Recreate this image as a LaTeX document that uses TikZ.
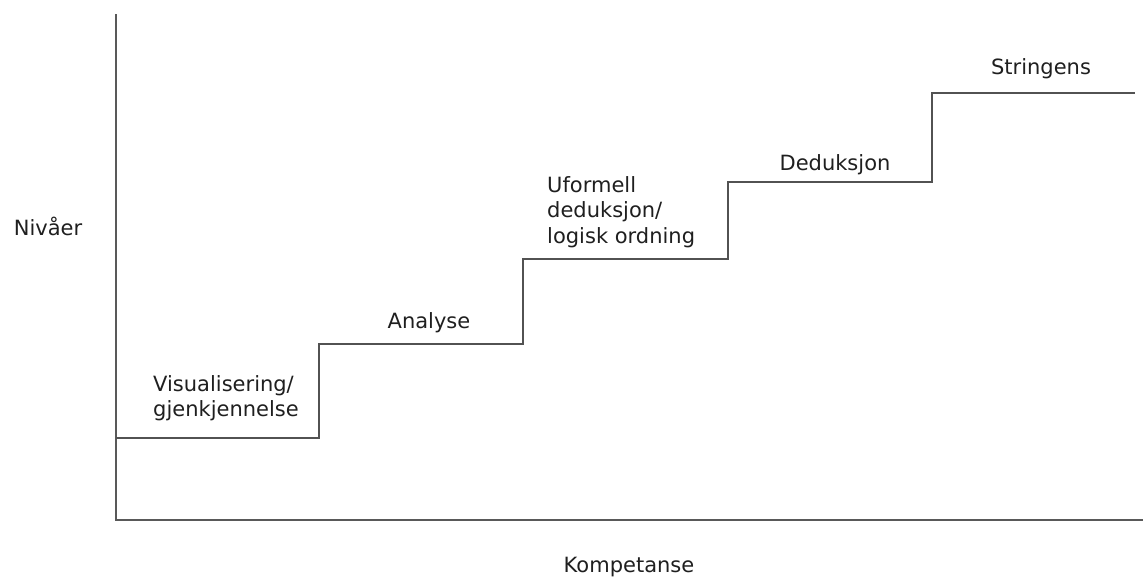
\documentclass[tikz,border=0pt]{standalone}
\usepackage{fontspec}
\setmainfont{DejaVu Sans}
\begin{document}
\begin{tikzpicture}[x=1pt,y=-1pt,
  axisline/.style={draw=black!65,line width=1.6pt},
  stairline/.style={draw=black!68,line width=1.5pt},
  lbl/.style={inner sep=0pt,text=black!88,font=\fontsize{21}{25.5}\selectfont,align=left}]
\useasboundingbox (0,0) rectangle (1143,581);
\coordinate (ytop) at (116,14);
\coordinate (orig) at (116,520);
\coordinate (xend) at (1143,520);
\draw[axisline] (ytop) -- (orig) -- (xend);
\coordinate (s0) at (116,438);
\coordinate (s1) at (319,438);
\coordinate (s2) at (319,344);
\coordinate (s3) at (523,344);
\coordinate (s4) at (523,259);
\coordinate (s5) at (728,259);
\coordinate (s6) at (728,182);
\coordinate (s7) at (932,182);
\coordinate (s8) at (932,93);
\coordinate (s9) at (1135,93);
\draw[stairline] (s0) -- (s1) -- (s2) -- (s3) -- (s4) -- (s5) -- (s6) -- (s7) -- (s8) -- (s9);
\node[lbl,anchor=west] (l1) at (153,398) {Visualisering/\\gjenkjennelse};
\node[lbl] (l2) at (429,323) {Analyse};
\node[lbl,anchor=west] (l3) at (547,212) {Uformell\\deduksjon/\\logisk ordning};
\node[lbl] (l4) at (835,165) {Deduksjon};
\node[lbl] (l5) at (1041,69) {Stringens};
\node[lbl] (ny) at (48,226) {Nivåer};
\node[lbl] (nx) at (629,567) {Kompetanse};
\end{tikzpicture}
\end{document}
